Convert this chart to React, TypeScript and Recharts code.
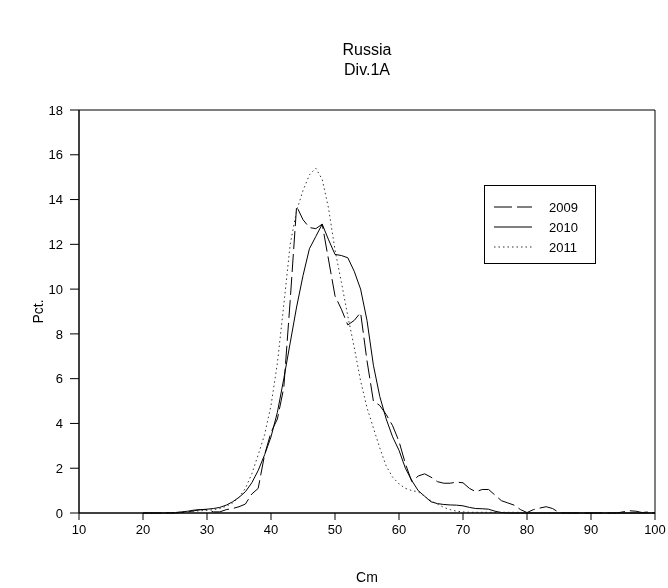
import React from 'react';
import { LineChart, Line, XAxis, YAxis, ReferenceArea, Label } from 'recharts';

const cm = [20,21,22,23,24,25,26,27,28,29,30,31,32,33,34,35,36,37,38,39,40,41,42,43,44,45,46,47,48,49,50,51,52,53,54,55,56,57,58,59,60,61,62,63,64,65,66,67,68,69,70,71,72,73,74,75,76,77,78,79,80,81,82,83,84,85,86,87,88,89,90,91,92,93,94,95,96,97,98,99,100];

const y2009 = [0,0,0,0,0,0,0.02,0.05,0.1,0.15,0.15,0.05,0.05,0.15,0.2,0.28,0.4,0.85,1.1,2.6,3.6,4.2,5.6,9.5,13.7,13.1,12.75,12.7,12.9,11.3,9.7,9.1,8.4,8.6,8.95,6.8,5.0,4.8,4.4,3.9,3.2,2.2,1.4,1.65,1.75,1.6,1.4,1.33,1.33,1.38,1.35,1.1,0.95,1.05,1.05,0.8,0.55,0.45,0.35,0.15,0.02,0.15,0.22,0.28,0.2,0.02,0,0,0,0,0,0,0,0,0,0.05,0.1,0.08,0.02,0.05,0];

const y2010 = [0,0,0,0,0.01,0.02,0.05,0.08,0.13,0.15,0.17,0.2,0.25,0.35,0.5,0.7,0.95,1.35,1.9,2.6,3.4,4.5,6.0,7.6,9.2,10.6,11.8,12.35,12.9,12.2,11.55,11.5,11.4,10.8,10.0,8.6,6.6,5.2,4.2,3.4,2.8,2.0,1.45,1.0,0.75,0.5,0.42,0.38,0.36,0.35,0.32,0.25,0.2,0.19,0.17,0.08,0.02,0,0,0,0,0,0,0,0,0,0,0,0,0,0,0,0,0,0,0,0,0,0,0,0];

const y2011 = [0,0,0,0,0.01,0.02,0.03,0.05,0.08,0.1,0.12,0.15,0.2,0.3,0.45,0.7,1.1,1.75,2.6,3.5,4.8,6.7,9.3,12.0,13.5,14.4,15.1,15.4,14.9,13.6,11.75,10.3,8.8,7.4,5.9,4.7,3.8,2.9,2.1,1.6,1.3,1.1,1.0,0.95,0.75,0.55,0.4,0.25,0.15,0.08,0.05,0.03,0.03,0.03,0.03,0.03,0.03,0.03,0.03,0.03,0,0,0,0,0,0,0,0,0,0,0,0,0,0,0,0,0,0,0,0,0];

const xTicks = [10,20,30,40,50,60,70,80,90,100];
const yTicks = [0,2,4,6,8,10,12,14,16,18];

const seriesNames = ['2009', '2010', '2011'];
const seriesDash = ['18 5', '', '1.5 3'];
const seriesColor = ['#000', '#000', '#333'];

const data = cm.map((c, i) => ({ cm: c, s2009: y2009[i], s2010: y2010[i], s2011: y2011[i] }));
const keys = ['s2009', 's2010', 's2011'];

const FONT = '"Liberation Sans", Arial, sans-serif';

export default function App() {
  return (
    <div style={{ position: 'fixed', left: 8, top: 8, width: 660, height: 580, fontFamily: FONT }}>
      <LineChart width={660} height={580} data={data} margin={{ top: 102, right: 13, left: 0, bottom: 0 }}>
        <XAxis
          dataKey="cm"
          type="number"
          domain={[10, 100]}
          ticks={xTicks}
          allowDataOverflow
          height={75}
          tickSize={7}
          tickMargin={5}
          stroke="#000"
          tick={{ fill: '#000', fontSize: 13, fontFamily: FONT }}
        >
          <Label value="Cm" position="insideBottom" offset={6} style={{ fill: '#000', fontSize: 14, fontFamily: FONT }} />
        </XAxis>
        <YAxis
          type="number"
          domain={[0, 18]}
          ticks={yTicks}
          width={71}
          tickSize={9}
          tickMargin={7}
          stroke="#000"
          tick={{ fill: '#000', fontSize: 13, fontFamily: FONT }}
        >
          <Label
            content={(props: any) => {
              const vb = props.viewBox || {};
              const cx = 30;
              const cy = vb.y + vb.height / 2;
              return (
                <text x={cx} y={cy} transform={`rotate(-90 ${cx} ${cy})`} textAnchor="middle" dominantBaseline="central" fill="#000" fontSize={14} fontFamily={FONT}>
                  Pct.
                </text>
              );
            }}
          />
        </YAxis>
        <ReferenceArea x1={10} x2={100} y1={0} y2={18} fill="none" fillOpacity={0} stroke="#000" strokeWidth={1} ifOverflow="visible" />
        {keys.map((k, i) => (
          <Line
            key={k}
            type="linear"
            dataKey={k}
            name={seriesNames[i]}
            stroke={seriesColor[i]}
            strokeWidth={1}
            strokeDasharray={seriesDash[i] || undefined}
            dot={false}
            activeDot={false}
            isAnimationActive={false}
          />
        ))}
      </LineChart>
      <svg width={660} height={580} style={{ position: 'absolute', left: 0, top: 0, pointerEvents: 'none' }}>
        <text x={359} y={47} textAnchor="middle" fontSize={16} fontFamily={FONT} fill="#000">Russia</text>
        <text x={359} y={67} textAnchor="middle" fontSize={16} fontFamily={FONT} fill="#000">Div.1A</text>
        <rect x={476.5} y={177.5} width={111} height={78} fill="#fff" stroke="#000" strokeWidth={1} />
        {seriesNames.map((n, i) => (
          <g key={n}>
            <line x1={486} x2={524} y1={199 + i * 20} y2={199 + i * 20} stroke={seriesColor[i]} strokeWidth={1} strokeDasharray={seriesDash[i] || undefined} />
            <text x={541} y={199 + i * 20} dominantBaseline="central" fontSize={13} fontFamily={FONT} fill="#000">{n}</text>
          </g>
        ))}
      </svg>
    </div>
  );
}
